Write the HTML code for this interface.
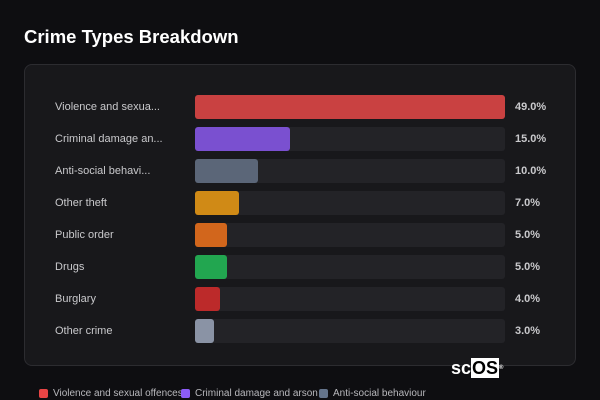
<!DOCTYPE html>
<html><head><style>
body{margin:0;width:600px;height:400px;background:#0e0e11;font-family:"Liberation Sans",sans-serif;position:relative;overflow:hidden}
.t{position:absolute;left:24px;top:26px;color:#fff;font-weight:bold;font-size:18.5px}
.card{position:absolute;left:24px;top:64px;width:550px;height:300px;background:#18181b;border:1px solid #2c2c30;border-radius:8px}
.row{position:absolute;left:0;width:600px;height:24px}
.lb{position:absolute;left:55px;top:6px;color:#c9c9cc;font-size:11px}
.tr{position:absolute;left:195px;top:0;width:310px;height:24px;background:#232327;border-radius:3px}
.b{position:absolute;left:0;top:0;height:24px;border-radius:3px}
.v{position:absolute;left:515px;top:6px;color:#c9c9cc;font-size:11px;font-weight:bold}
.lg{position:absolute;top:388px;font-size:10px;color:#b8b8bc;white-space:nowrap}
.lg i{position:absolute;left:-14px;top:1px;width:9px;height:9px;border-radius:2px}
</style></head><body>
<div class="t">Crime Types Breakdown</div>
<div class="card"></div>
<div class="row" style="top:95px"><span class="lb">Violence and sexua...</span><div class="tr"><div class="b" style="width:310px;background:#c94141"></div></div><span class="v">49.0%</span></div>
<div class="row" style="top:127px"><span class="lb">Criminal damage an...</span><div class="tr"><div class="b" style="width:95px;background:#7a50d0"></div></div><span class="v">15.0%</span></div>
<div class="row" style="top:159px"><span class="lb">Anti-social behavi...</span><div class="tr"><div class="b" style="width:63px;background:#5b6678"></div></div><span class="v">10.0%</span></div>
<div class="row" style="top:191px"><span class="lb">Other theft</span><div class="tr"><div class="b" style="width:44px;background:#d08a16"></div></div><span class="v">7.0%</span></div>
<div class="row" style="top:223px"><span class="lb">Public order</span><div class="tr"><div class="b" style="width:32px;background:#d2661c"></div></div><span class="v">5.0%</span></div>
<div class="row" style="top:255px"><span class="lb">Drugs</span><div class="tr"><div class="b" style="width:32px;background:#22a650"></div></div><span class="v">5.0%</span></div>
<div class="row" style="top:287px"><span class="lb">Burglary</span><div class="tr"><div class="b" style="width:25px;background:#bc2a2a"></div></div><span class="v">4.0%</span></div>
<div class="row" style="top:319px"><span class="lb">Other crime</span><div class="tr"><div class="b" style="width:19px;background:#8a93a5"></div></div><span class="v">3.0%</span></div>
<div style="position:absolute;left:451px;top:359px;font-size:18px;font-weight:bold;color:#fff;line-height:19px">sc<span style="background:#fff;color:#000;padding:0 1px">OS</span><sup style="font-size:6px;vertical-align:top">®</sup></div>
<div class="lg" style="left:53px"><i style="background:#e84545"></i>Violence and sexual offences</div>
<div class="lg" style="left:195px"><i style="background:#8b5cf6"></i>Criminal damage and arson</div>
<div class="lg" style="left:333px"><i style="background:#64748b"></i>Anti-social behaviour</div>
</body></html>
